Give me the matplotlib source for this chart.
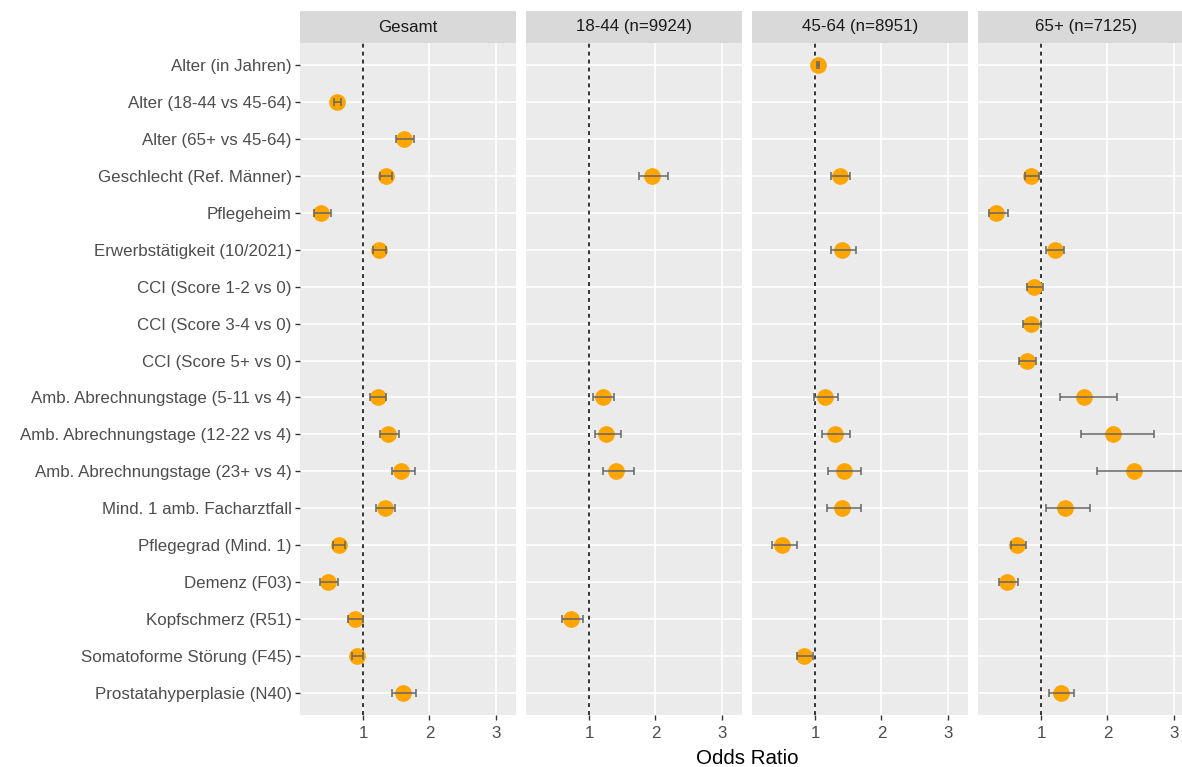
import numpy as np
import matplotlib.pyplot as plt

plt.rcParams['font.family'] = ['Liberation Sans', 'DejaVu Sans']

labels = [
    "Alter (in Jahren)", "Alter (18-44 vs 45-64)", "Alter (65+ vs 45-64)",
    "Geschlecht (Ref. Männer)", "Pflegeheim", "Erwerbstätigkeit (10/2021)",
    "CCI (Score 1-2 vs 0)", "CCI (Score 3-4 vs 0)", "CCI (Score 5+ vs 0)",
    "Amb. Abrechnungstage (5-11 vs 4)", "Amb. Abrechnungstage (12-22 vs 4)",
    "Amb. Abrechnungstage (23+ vs 4)", "Mind. 1 amb. Facharztfall",
    "Pflegegrad (Mind. 1)", "Demenz (F03)", "Kopfschmerz (R51)",
    "Somatoforme Störung (F45)", "Prostatahyperplasie (N40)",
]
panels = ["Gesamt", "18-44 (n=9924)", "45-64 (n=8951)", "65+ (n=7125)"]
nan = np.nan

# odds ratios and 95% CI per panel (nan = not in model)
or_gesamt = [nan, 0.61, 1.62, 1.34, 0.36, 1.23, nan, nan, nan, 1.22, 1.38, 1.57, 1.33, 0.63, 0.46, 0.87, 0.91, 1.60]
lo_gesamt = [nan, 0.56, 1.49, 1.25, 0.25, 1.15, nan, nan, nan, 1.10, 1.26, 1.43, 1.19, 0.54, 0.34, 0.77, 0.83, 1.43]
hi_gesamt = [nan, 0.67, 1.76, 1.44, 0.51, 1.34, nan, nan, nan, 1.35, 1.54, 1.78, 1.48, 0.73, 0.62, 0.99, 0.99, 1.80]

or_1844 = [nan, nan, nan, 1.94, nan, nan, nan, nan, nan, 1.20, 1.26, 1.41, nan, nan, nan, 0.72, nan, nan]
lo_1844 = [nan, nan, nan, 1.75, nan, nan, nan, nan, nan, 1.05, 1.09, 1.20, nan, nan, nan, 0.59, nan, nan]
hi_1844 = [nan, nan, nan, 2.19, nan, nan, nan, nan, nan, 1.37, 1.48, 1.67, nan, nan, nan, 0.90, nan, nan]

or_4564 = [1.04, nan, nan, 1.37, nan, 1.41, nan, nan, nan, 1.15, 1.30, 1.43, 1.41, 0.49, nan, nan, 0.83, nan]
lo_4564 = [1.02, nan, nan, 1.24, nan, 1.24, nan, nan, nan, 0.98, 1.10, 1.19, 1.17, 0.34, nan, nan, 0.72, nan]
hi_4564 = [1.05, nan, nan, 1.52, nan, 1.61, nan, nan, nan, 1.35, 1.52, 1.69, 1.69, 0.72, nan, nan, 0.96, nan]

or_65 = [nan, nan, nan, 0.85, 0.31, 1.20, 0.89, 0.85, 0.79, 1.65, 2.08, 2.40, 1.36, 0.64, 0.48, nan, nan, 1.30]
lo_65 = [nan, nan, nan, 0.76, 0.21, 1.07, 0.79, 0.72, 0.66, 1.28, 1.60, 1.84, 1.07, 0.55, 0.36, nan, nan, 1.11]
hi_65 = [nan, nan, nan, 0.96, 0.49, 1.35, 1.03, 1.00, 0.92, 2.14, 2.70, 3.20, 1.73, 0.77, 0.65, nan, nan, 1.50]

data = [
    (or_gesamt, lo_gesamt, hi_gesamt),
    (or_1844, lo_1844, hi_1844),
    (or_4564, lo_4564, hi_4564),
    (or_65, lo_65, hi_65),
]

W, H = 1182, 767
fig = plt.figure(figsize=(W / 100, H / 100), dpi=100)

lefts = [300, 526, 752, 978]
pw = 216
top, bottom = 43, 715
y = np.arange(1, len(labels) + 1)

for i, (title, (orv, lov, hiv)) in enumerate(zip(panels, data)):
    ax = fig.add_axes([lefts[i] / W, 1 - bottom / H, pw / W, (bottom - top) / H])
    ax.set_facecolor('#EBEBEB')
    for s in ax.spines.values():
        s.set_visible(False)
    ax.set_axisbelow(True)
    ax.grid(True, color='white', lw=1.2)

    orv, lov, hiv = np.array(orv), np.array(lov), np.array(hiv)
    m = ~np.isnan(orv)
    ax.axvline(1, color='black', ls=(0, (2.6, 2.6)), lw=1.1, zorder=2)
    ax.plot(orv[m], y[m], 'o', color='#FFA500', ms=11, zorder=3)
    ax.errorbar(orv[m], y[m], xerr=[orv[m] - lov[m], hiv[m] - orv[m]], fmt='none',
                ecolor='#666666', elinewidth=1.1, capsize=2.6, capthick=1.1, zorder=4)

    ax.set_xlim(0.044, 3.307)
    ax.set_ylim(18.6, 0.4)
    ax.set_xticks([1, 2, 3])
    ax.set_yticks(y)
    ax.tick_params(colors='#333333', labelcolor='#4D4D4D', labelsize=12.2,
                   length=3.7, width=1.0, pad=2.2)
    ax.tick_params(axis='x', pad=4.5)
    if i == 0:
        ax.set_yticklabels(labels)
    else:
        ax.tick_params(axis='y', left=False, labelleft=False)

    sx = fig.add_axes([lefts[i] / W, 1 - top / H, pw / W, 32 / H])
    sx.set_facecolor('#D9D9D9')
    sx.set_xticks([])
    sx.set_yticks([])
    for s in sx.spines.values():
        s.set_visible(False)
    sx.text(0.5, 0.5, title, ha='center', va='center', fontsize=12.2,
            color='#1A1A1A', transform=sx.transAxes)

fig.text(747 / W, 1 - 758 / H, "Odds Ratio", ha='center', va='center',
         fontsize=14.8, color='black')

fig.savefig('out.png', dpi=100, facecolor='white')
